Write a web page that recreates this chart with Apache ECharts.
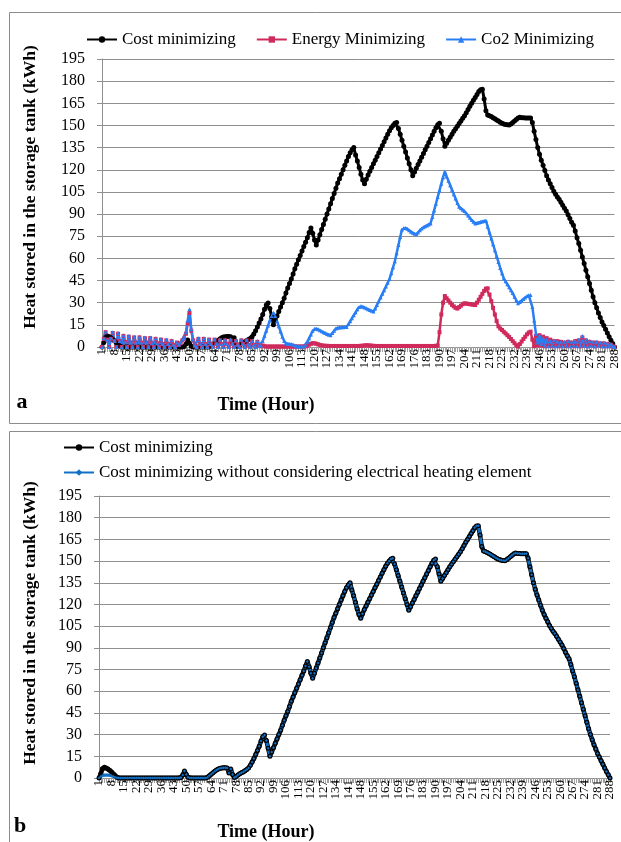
<!DOCTYPE html>
<html>
<head>
<meta charset="utf-8">
<script src="https://cdn.jsdelivr.net/npm/echarts@6/dist/echarts.min.js"></script>
<style>
  html, body { margin: 0; padding: 0; background: #fff; }
  #wrap { position: relative; width: 621px; height: 842px; overflow: hidden; }
  #chartA { position: absolute; left: 0; top: 0; width: 621px; height: 425px; }
  #chartB { position: absolute; left: 0; top: 425px; width: 621px; height: 417px; }
</style>
</head>
<body>
<div id="wrap">
  <div id="chartA"></div>
  <div id="chartB"></div>
</div>
<script>
// Hourly heat stored in the storage tank (kWh), hours 1..288
const hours = Array.from({ length: 288 }, (_, i) => String(i + 1));
const yTicks = { min: 0, max: 195, step: 15 };
const labelEvery = 7; // an hour label every 7th hour: 1, 8, 15, ... 288

const costMinimizing = [
  0, 3, 6.5, 7.5, 7, 6.2, 5.3, 4.3, 3, 1.8, 0.6, 0,
  0, 0, 0, 0, 0, 0, 0, 0, 0, 0, 0, 0,
  0, 0, 0, 0, 0, 0, 0, 0, 0, 0, 0, 0,
  0, 0, 0, 0, 0, 0, 0, 0, 0, 0, 0.3, 2,
  4.8, 2.5, 0.5, 0, 0, 0, 0, 0, 0, 0, 0, 0,
  0, 0.5, 1.5, 2.6, 3.6, 4.6, 5.5, 6.3, 6.8, 7, 7.1, 7.1,
  7, 3.5, 6.2, 2.5, 0.3, 1, 2, 3, 3.6, 4.2, 5, 5.8,
  7, 8.8, 11, 13.5, 16.2, 19, 22, 25.5, 28.5, 29.8, 26, 20.5,
  15, 18, 21, 24, 27, 30, 33, 36.5, 40, 43, 46, 49.5,
  53, 56, 59, 62, 65, 68, 71, 74, 77.5, 80.5, 77, 72.5,
  69, 72.5, 76, 79.5, 83, 86.5, 90, 93.5, 97, 100.5, 104, 107.5,
  111, 114, 117, 120, 123, 126, 129, 131.5, 133.5, 135, 130, 126,
  121.5, 117, 113, 110.5, 113.5, 116.5, 119, 121.5, 124, 126.5, 129, 131.5,
  134, 136.5, 139, 141.5, 144, 146.5, 148.5, 150, 151.5, 152, 148, 144,
  140, 136, 132, 128, 124, 120, 116, 118.5, 121, 123.5, 126, 128.5,
  131, 133.5, 136, 138.5, 141, 143.5, 146, 148.5, 150.5, 151.5, 146, 141,
  136, 138, 140, 142, 144, 146, 147.8, 149.5, 151.3, 153, 154.8, 156.5,
  158.6, 160.8, 163, 165, 167, 169, 171, 173, 174.2, 174.5, 168, 160,
  157, 156.5, 156, 155.3, 154.5, 153.7, 153, 152.2, 151.5, 151, 150.6, 150.4,
  150.3, 151, 152, 153, 154, 155, 155.5, 155.3, 155.2, 155.1, 155, 155,
  155, 152, 146, 140.5, 135, 130.5, 126.5, 123, 119.5, 116, 113, 110.5,
  108, 105.5, 103.5, 101.5, 100, 98, 96, 94, 92, 89.5, 87, 84.5,
  82.5, 78.5, 74, 70, 65.5, 61, 56.5, 52, 47.5, 43, 38.5, 34,
  30, 26.5, 23, 20, 17, 14.5, 12, 9.5, 7, 4.5, 2.3, 0
];

const energyMinimizing = [
  0, 5.5, 10, 5, 0, 5.5, 9.5, 4, 0, 9, 4, 0,
  7.5, 3.5, 0, 7, 3, 0, 6.5, 3, 0, 6.5, 3, 0,
  6, 3, 0, 6, 2.5, 0, 5.5, 2.5, 0, 5, 2, 0,
  4.5, 2, 0, 4, 1.5, 0, 3, 1.5, 2.5, 4.5, 5.5, 9,
  16, 23, 11, 4.5, 1, 0, 5.5, 2, 0, 5.5, 2, 0,
  5, 2, 0, 5, 2, 0, 4.5, 2, 0, 4.5, 2, 0,
  4.5, 2, 0, 4, 1.5, 0, 4.5, 2, 0, 4.5, 1.5, 0,
  4, 1.5, 0, 3.5, 1, 0.5, 1, 0.5, 0.3, 0.3, 0.3, 0.3,
  0.3, 0.3, 0.3, 0.3, 0.3, 0.3, 0.3, 0.3, 0.3, 0.3, 0.3, 0.3,
  0.3, 0.3, 0.3, 0.3, 0.3, 0.3, 0.5, 1, 1.6, 2.2, 2.6, 2.5,
  2.2, 1.8, 1.4, 1.1, 0.9, 0.8, 0.8, 0.7, 0.7, 0.7, 0.7, 0.7,
  0.7, 0.7, 0.7, 0.7, 0.7, 0.7, 0.7, 0.7, 0.7, 0.7, 0.7, 0.7,
  0.7, 0.8, 0.9, 1, 1.2, 1.1, 1, 0.9, 0.8, 0.7, 0.7, 0.7,
  0.7, 0.7, 0.7, 0.7, 0.7, 0.7, 0.7, 0.7, 0.7, 0.7, 0.7, 0.7,
  0.7, 0.7, 0.7, 0.7, 0.7, 0.7, 0.7, 0.7, 0.7, 0.7, 0.7, 0.7,
  0.7, 0.7, 0.7, 0.7, 0.7, 0.7, 0.7, 0.8, 1, 10, 22, 30,
  34.5, 33, 31.5, 30, 28.5, 27.5, 26.5, 26, 27, 28, 29, 29.6,
  29.4, 29.2, 29, 28.8, 28.6, 28.4, 30, 32, 34, 36, 38, 39.5,
  39.7, 35.5, 31, 26.5, 22, 17.5, 14, 12.5, 11.5, 10.3, 9.2, 8,
  6.8, 5.4, 4, 2.6, 1.2, 0.2, 2, 3.7, 5.4, 7, 8.6, 9.8,
  10.4, 5, 0.5, 7.5, 1, 8, 1, 7, 0.5, 6, 1, 5,
  0.5, 4, 1, 4, 0.5, 3.5, 1, 3, 0.5, 3.5, 1, 3,
  0.5, 4, 1, 4.5, 0.5, 6.5, 1, 4.5, 0.5, 3.5, 1, 3,
  0.5, 3, 1, 2.5, 0.5, 2.5, 0.5, 2, 0.5, 1.5, 0.5, 0
];

const co2Minimizing = [
  0, 6, 10.5, 5, 0, 6, 10, 4, 0, 9.5, 4, 0,
  8, 3.5, 0, 7.5, 3, 0, 7, 3, 0, 7, 3, 0,
  6.5, 3, 0, 6.5, 2.5, 0, 6, 2.5, 0, 5.5, 2, 0,
  5, 2, 0, 4.5, 1.5, 0, 3, 1.5, 3, 5, 6, 10,
  18, 25.5, 12, 5, 1, 0, 6, 2, 0, 6, 2, 0,
  5.5, 2, 0, 5, 2, 0, 5, 2, 0, 5, 2, 0,
  5, 2, 0, 4.5, 1.5, 0, 5, 2, 0, 4.5, 1.5, 0,
  4, 1.5, 0, 4, 1, 1, 4, 7.5, 11, 14.5, 18, 21,
  23.2, 21, 17.5, 14, 10.5, 7, 4, 2.5, 2, 2, 2, 1.5,
  1, 0.5, 0.3, 0.3, 0.3, 0.5, 1.5, 3.5, 6, 8.5, 11, 12.3,
  12.4, 12, 11.3, 10.7, 10, 9.4, 8.8, 8.3, 8, 9.5, 11, 12.5,
  13, 13.2, 13.3, 13.4, 13.5, 13.6, 15.5, 17.5, 19.5, 21.5, 23.5, 25.5,
  27, 27.8, 27.3, 26.7, 26.2, 25.6, 25, 24.5, 24, 26, 28.5, 31,
  33.5, 36, 38.5, 41, 43.5, 46, 50, 54, 58, 63.5, 69, 74.5,
  79.5, 80.5, 80.5, 80, 79, 78, 77.3, 76.7, 76.3, 77.5, 79, 80.3,
  81, 81.7, 82.3, 83, 83.7, 88, 92.5, 97, 101.5, 106, 110.5, 115,
  118.7, 115.5, 112.5, 109.5, 106.5, 103.5, 100.5, 97.5, 95, 94, 93, 92,
  90.5, 89, 87.5, 86, 84.8, 83.7, 84, 84.3, 84.6, 85, 85.3, 85.5,
  81.5, 77.5, 73.5, 69.5, 65.5, 61.5, 57.5, 53.5, 50, 46.5, 44.5, 42.5,
  40.5, 38.5, 36.5, 34, 31.5, 29.6, 30.5, 31.5, 32.5, 33.5, 34.5, 35,
  35.2, 27, 18, 9, 3, 8, 2, 6, 1, 5, 0.5, 4,
  1, 4.5, 0.5, 4, 1, 3.5, 0.5, 3.5, 1, 4, 0.5, 3.5,
  1, 4, 0.5, 5, 1, 7.5, 1, 5, 0.5, 4, 1, 3.5,
  0.5, 3.5, 1, 3, 0.5, 3, 0.5, 2.5, 0.5, 2, 0.5, 0
];

const costNoHeatingElement = [
  0, 1, 1.8, 2, 2, 2, 1.9, 1.6, 1.1, 0.6, 0.2, 0,
  0, 0, 0, 0, 0, 0, 0, 0, 0, 0, 0, 0,
  0, 0, 0, 0, 0, 0, 0, 0, 0, 0, 0, 0,
  0, 0, 0, 0, 0, 0, 0, 0, 0, 0, 0.3, 2,
  4.8, 2.5, 0.5, 0, 0, 0, 0, 0, 0, 0, 0, 0,
  0, 0.5, 1.5, 2.6, 3.6, 4.6, 5.5, 6.3, 6.8, 7, 7.1, 7.1,
  7, 3.5, 6.2, 2.5, 0.3, 1, 2, 3, 3.6, 4.2, 5, 5.8,
  7, 8.8, 11, 13.5, 16.2, 19, 22, 25.5, 28.5, 29.8, 26, 20.5,
  15, 18, 21, 24, 27, 30, 33, 36.5, 40, 43, 46, 49.5,
  53, 56, 59, 62, 65, 68, 71, 74, 77.5, 80.5, 77, 72.5,
  69, 72.5, 76, 79.5, 83, 86.5, 90, 93.5, 97, 100.5, 104, 107.5,
  111, 114, 117, 120, 123, 126, 129, 131.5, 133.5, 135, 130, 126,
  121.5, 117, 113, 110.5, 113.5, 116.5, 119, 121.5, 124, 126.5, 129, 131.5,
  134, 136.5, 139, 141.5, 144, 146.5, 148.5, 150, 151.5, 152, 148, 144,
  140, 136, 132, 128, 124, 120, 116, 118.5, 121, 123.5, 126, 128.5,
  131, 133.5, 136, 138.5, 141, 143.5, 146, 148.5, 150.5, 151.5, 146, 141,
  136, 138, 140, 142, 144, 146, 147.8, 149.5, 151.3, 153, 154.8, 156.5,
  158.6, 160.8, 163, 165, 167, 169, 171, 173, 174.2, 174.5, 168, 160,
  157, 156.5, 156, 155.3, 154.5, 153.7, 153, 152.2, 151.5, 151, 150.6, 150.4,
  150.3, 151, 152, 153, 154, 155, 155.5, 155.3, 155.2, 155.1, 155, 155,
  155, 152, 146, 140.5, 135, 130.5, 126.5, 123, 119.5, 116, 113, 110.5,
  108, 105.5, 103.5, 101.5, 100, 98, 96, 94, 92, 89.5, 87, 84.5,
  82.5, 78.5, 74, 70, 65.5, 61, 56.5, 52, 47.5, 43, 38.5, 34,
  30, 26.5, 23, 20, 17, 14.5, 12, 9.5, 7, 4.5, 2.3, 0
];

const SERIF = "'Liberation Serif', 'Times New Roman', serif";
const GRID_GREY = '#8f8f8f';

function xAxisCfg() {
  return {
    type: 'category',
    data: hours,
    boundaryGap: false,
    axisLine: { lineStyle: { color: GRID_GREY, width: 1 } },
    axisTick: { show: true, interval: 0, length: 5, lineStyle: { color: '#a0a0a0' } },
    axisLabel: {
      // every category gets a label slot; only every 7th hour carries text
      interval: 0, rotate: 90, margin: 2,
      formatter: (value, index) => (index % labelEvery === 0 ? value : ''),
      fontFamily: SERIF, fontSize: 13, color: '#000'
    },
    splitLine: { show: false }
  };
}

function yAxisCfg() {
  return {
    type: 'value',
    min: yTicks.min, max: yTicks.max, interval: yTicks.step,
    axisLine: { show: true, lineStyle: { color: GRID_GREY, width: 1 } },
    axisTick: { show: true, length: 5, lineStyle: { color: GRID_GREY } },
    axisLabel: { fontFamily: SERIF, fontSize: 16, color: '#000', margin: 17 },
    splitLine: { show: true, lineStyle: { color: GRID_GREY, width: 1 } }
  };
}

function yTitle(cx, cy) {
  return {
    type: 'text', x: cx, y: cy, rotation: Math.PI / 2,
    style: {
      text: 'Heat stored in the storage tank (kWh)',
      font: "bold 17.5px " + SERIF, fill: '#000',
      textAlign: 'center', textVerticalAlign: 'middle'
    }
  };
}

function boldText(txt, x, y, size) {
  return {
    type: 'text', x: x, y: y,
    style: {
      text: txt, font: 'bold ' + size + 'px ' + SERIF, fill: '#000',
      textAlign: 'center', textVerticalAlign: 'middle'
    }
  };
}

const legendText = { fontFamily: SERIF, fontSize: 17, color: '#000' };

// ---- Panel a ----
const chartA = echarts.init(document.getElementById('chartA'), null, { renderer: 'canvas' });
chartA.setOption({
  animation: false,
  backgroundColor: '#fff',
  grid: { left: 102, top: 59, width: 514, height: 288, containLabel: false },
  legend: {
    top: 26, left: 81,
    itemWidth: 30, itemHeight: 8, itemGap: 20,
    textStyle: legendText,
    data: ['Cost minimizing', 'Energy Minimizing', 'Co2 Minimizing']
  },
  xAxis: xAxisCfg(),
  yAxis: yAxisCfg(),
  graphic: [
    {
      type: 'rect', left: 7, top: 10, z: -1,
      shape: { width: 640, height: 411 },
      style: { fill: 'none', stroke: '#8c8c8c', lineWidth: 1 }
    },
    yTitle(30, 187),
    boldText('Time (Hour)', 266, 405, 18),
    boldText('a', 22, 402, 22)
  ],
  series: [
    {
      name: 'Cost minimizing', type: 'line', data: costMinimizing,
      showAllSymbol: true, symbol: 'circle', symbolSize: 5,
      lineStyle: { color: '#000', width: 3 }, itemStyle: { color: '#000' }
    },
    {
      name: 'Energy Minimizing', type: 'line', data: energyMinimizing,
      showAllSymbol: true, symbol: 'rect', symbolSize: 4,
      lineStyle: { color: '#d02a5c', width: 2.5 }, itemStyle: { color: '#d02a5c' }
    },
    {
      name: 'Co2 Minimizing', type: 'line', data: co2Minimizing,
      showAllSymbol: true, symbol: 'triangle', symbolSize: 4,
      lineStyle: { color: '#2a7ef5', width: 2.5 }, itemStyle: { color: '#2a7ef5' }
    }
  ]
});

// ---- Panel b ----
const chartB = echarts.init(document.getElementById('chartB'), null, { renderer: 'canvas' });
chartB.setOption({
  animation: false,
  backgroundColor: '#fff',
  grid: { left: 99, top: 71, width: 511, height: 282, containLabel: false },
  legend: {
    top: 9, left: 58, orient: 'vertical',
    itemWidth: 30, itemHeight: 8, itemGap: 8,
    textStyle: legendText,
    data: ['Cost minimizing', 'Cost minimizing without considering electrical heating element']
  },
  xAxis: xAxisCfg(),
  yAxis: yAxisCfg(),
  graphic: [
    {
      type: 'rect', left: 7, top: 4, z: -1,
      shape: { width: 640, height: 440 },
      style: { fill: 'none', stroke: '#8c8c8c', lineWidth: 1 }
    },
    yTitle(30, 198),
    boldText('Time (Hour)', 266, 407, 18),
    boldText('b', 20, 401, 22)
  ],
  series: [
    {
      name: 'Cost minimizing', type: 'line', data: costMinimizing,
      showAllSymbol: true, symbol: 'circle', symbolSize: 5,
      lineStyle: { color: '#000', width: 4.5 }, itemStyle: { color: '#000' }
    },
    {
      name: 'Cost minimizing without considering electrical heating element',
      type: 'line', data: costNoHeatingElement,
      showAllSymbol: true, symbol: 'diamond', symbolSize: 3,
      lineStyle: { color: '#1170c4', width: 3 }, itemStyle: { color: '#1170c4' }
    }
  ]
});
</script>
</body>
</html>
